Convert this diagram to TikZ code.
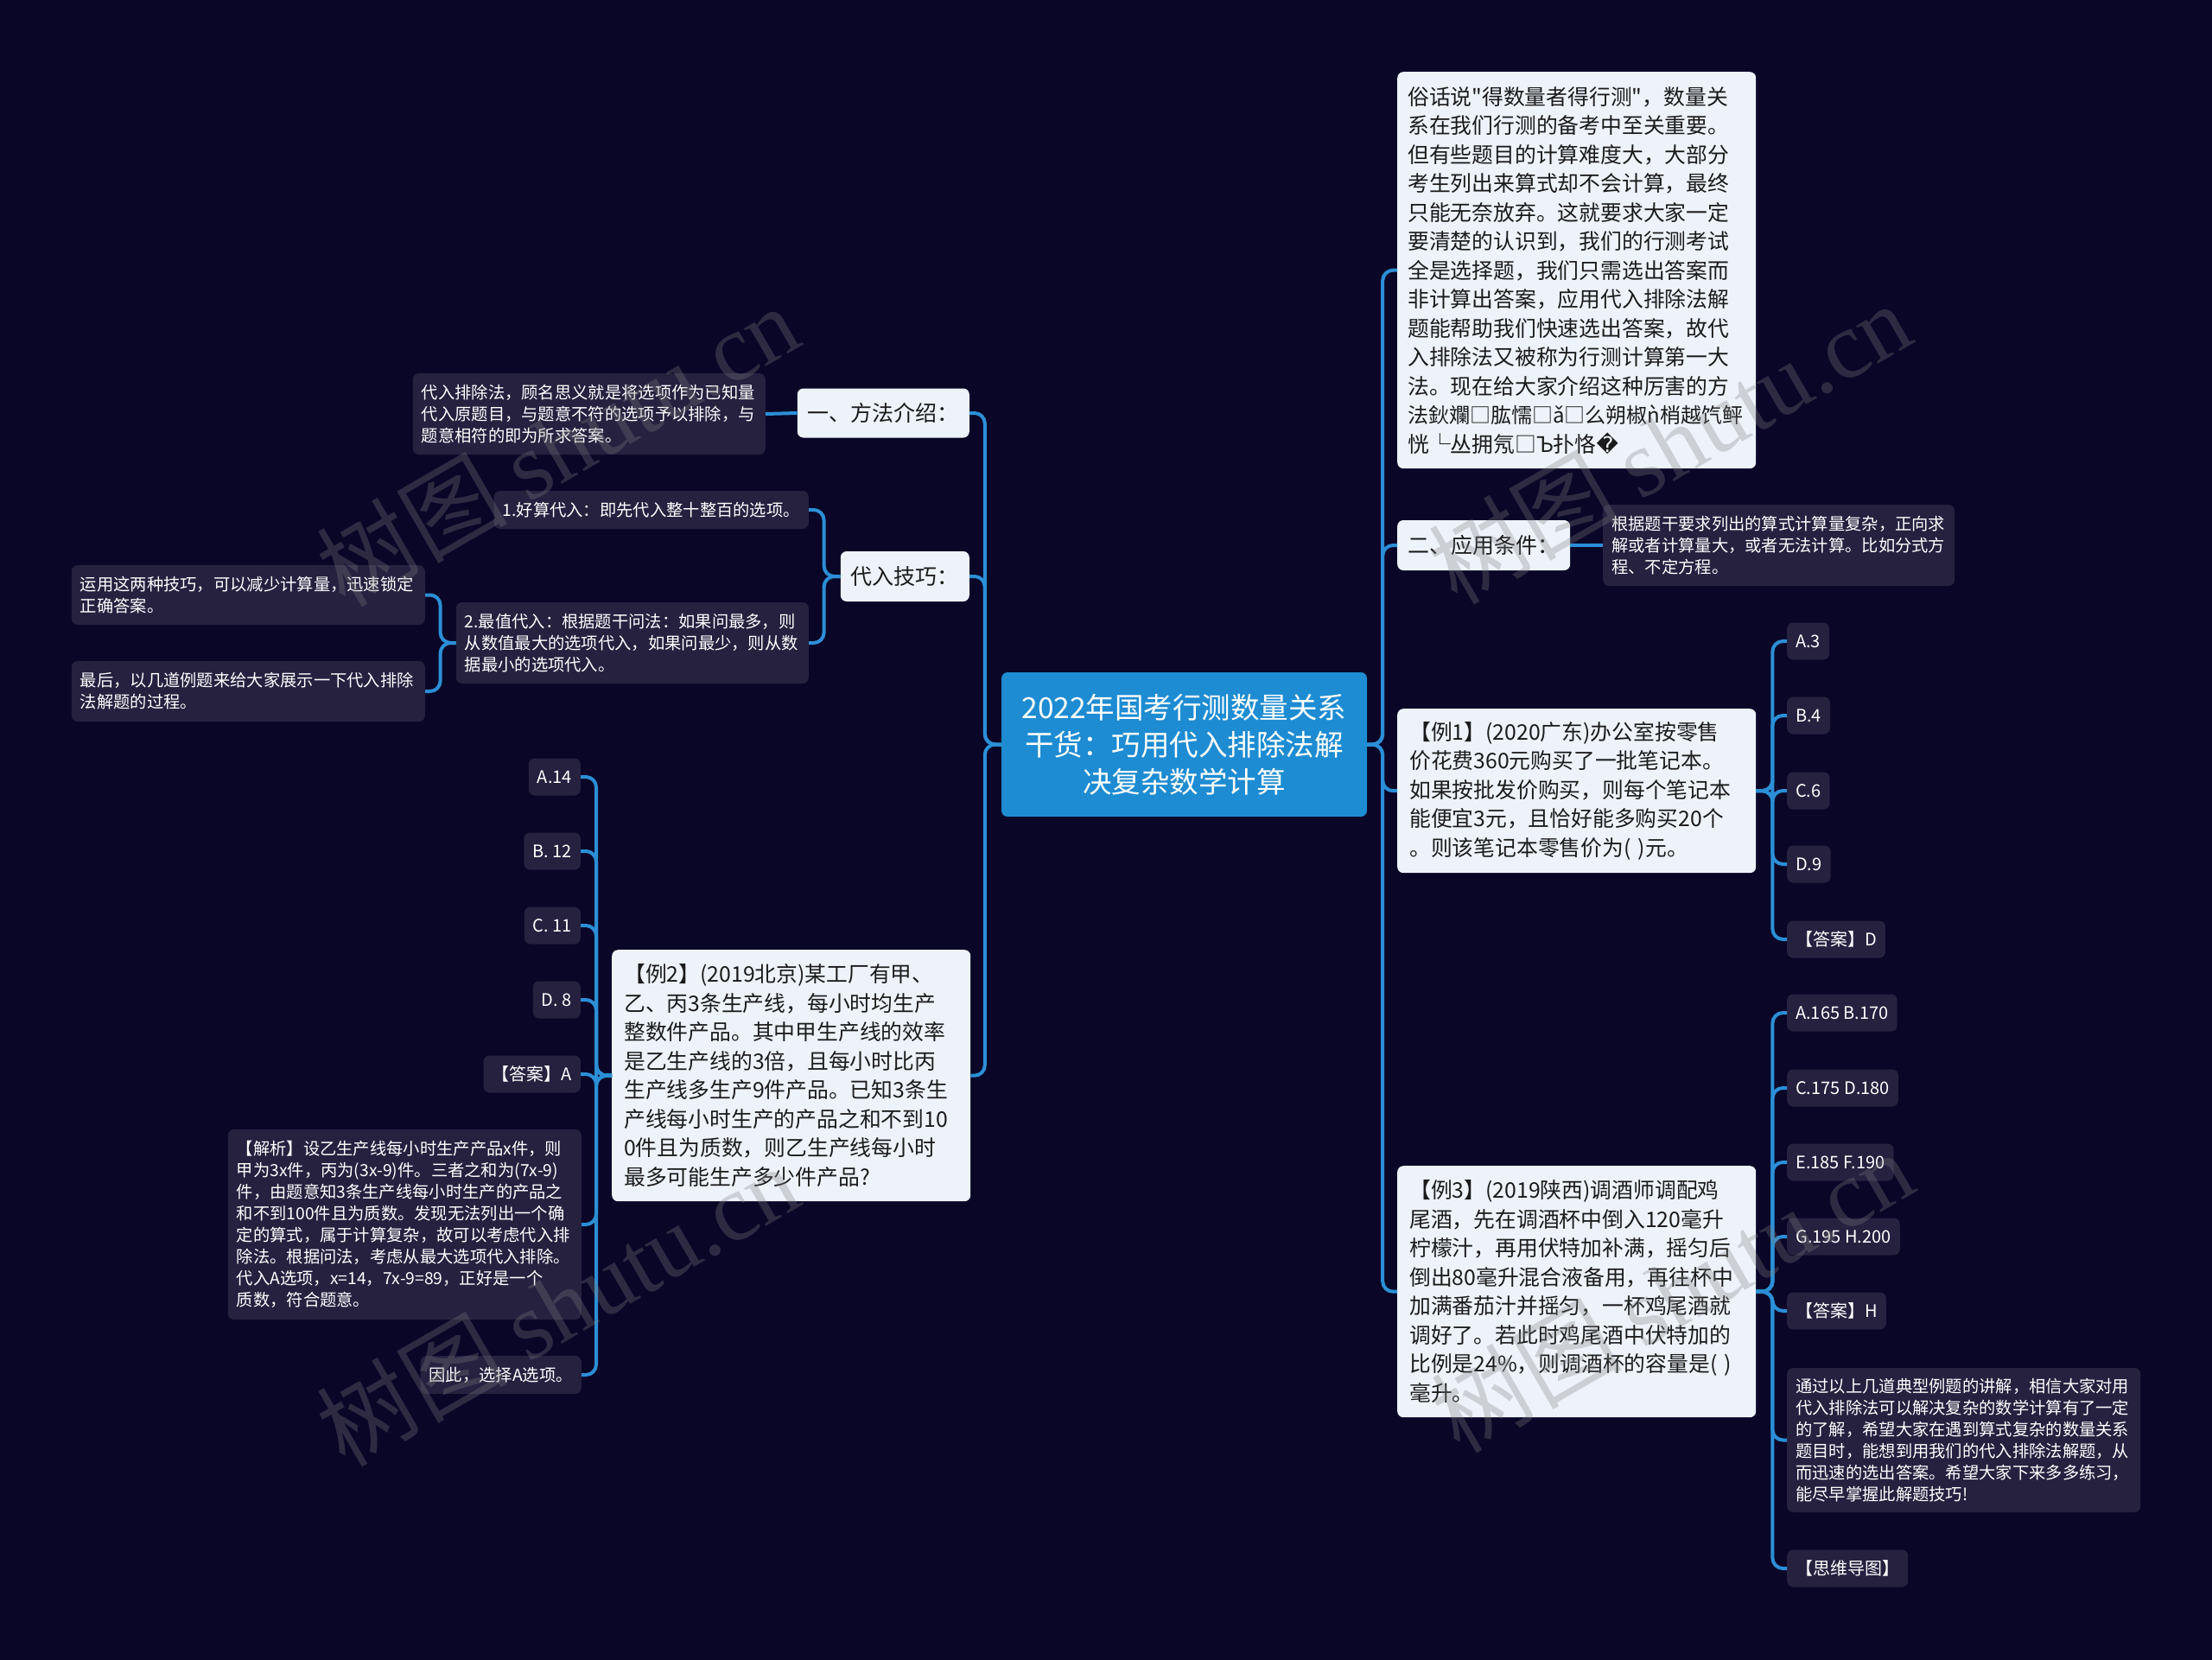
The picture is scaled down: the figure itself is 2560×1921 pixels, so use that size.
\documentclass[tikz,border=0pt]{standalone}
\usepackage{fontspec}
\setmainfont{Noto Sans CJK SC}[Ligatures=TeXOff]
\newfontfamily\symfont{DejaVu Sans}
\newfontfamily\wmfont{Liberation Serif}

\definecolor{bgnavy}{HTML}{0A0628}
\definecolor{rootblue}{HTML}{1E8CD2}
\definecolor{linkblue}{HTML}{2B8FD6}
\definecolor{paper}{HTML}{EEF3FB}
\definecolor{leafbg}{HTML}{25213F}
\definecolor{ink}{HTML}{1B1B1B}

\tikzset{
  root/.style={fill=rootblue, text=white, rounded corners=7pt, align=center,
    minimum width=423, minimum height=167, font=\fontsize{33.5}{43}\selectfont},
  topic/.style={fill=paper, text=ink, rounded corners=7pt, inner xsep=12pt,
    align=left, font=\fontsize{25}{30}\selectfont},
  para/.style={fill=paper, text=ink, rounded corners=7pt, inner xsep=14pt,
    align=left, text width=387pt, font=\fontsize{24.8}{33.5}\selectfont},
  leaf/.style={fill=leafbg, text=white, rounded corners=7pt, inner xsep=10pt,
    align=left, font=\fontsize{19.3}{25}\selectfont},
  opt/.style={fill=leafbg, text=white, rounded corners=7pt, inner xsep=10pt,
    minimum height=43, font=\fontsize{20}{24}\selectfont},
  link/.style={draw=linkblue, line width=4pt, rounded corners=12pt},
  wmark/.style={text=gray, text opacity=0.3, rotate=30,
    font=\fontsize{110}{110}\selectfont}
}

\begin{document}
\begin{tikzpicture}[x=1pt, y=-1pt]

% Canvas (2560 x 1921 px)
\fill[bgnavy] (0,0) rectangle (2560,1921);
\useasboundingbox (0,0) rectangle (2560,1921);

% Root
\node[root] (root) at (1370.5,861.5) {2022年国考行测数量关系\\干货：巧用代入排除法解\\决复杂数学计算};

% Right branch
\node[para, inner xsep=12pt, text width=391pt, minimum height=459, anchor=north west] (intro) at (1617,83) {%
俗话说"得数量者得行测"，数量关\\
系在我们行测的备考中至关重要。\\
但有些题目的计算难度大，大部分\\
考生列出来算式却不会计算，最终\\
只能无奈放弃。这就要求大家一定\\
要清楚的认识到，我们的行测考试\\
全是选择题，我们只需选出答案而\\
非计算出答案，应用代入排除法解\\
题能帮助我们快速选出答案，故代\\
入排除法又被称为行测计算第一大\\
法。现在给大家介绍这种厉害的方\\
{\fontsize{24}{33.5}\selectfont 法鈥斕□肱懦□ǎ□么朔椒ǹ梢越饩鲆}\\
恍└丛拥氖□Ъ扑恪{\symfont �}};

\node[topic, text width=176pt, minimum height=58, anchor=west] (apply) at (1617,631) {二、应用条件：};
\node[leaf, text width=387pt, minimum height=94, anchor=west] (applynote) at (1855,631) {%
根据题干要求列出的算式计算量复杂，正向求\\
解或者计算量大，或者无法计算。比如分式方\\
程、不定方程。};
\draw[link] (apply.east) -- (applynote.west);

\node[para, minimum height=190, anchor=north west] (ex1) at (1617,820) {%
【例1】(2020广东)办公室按零售\\
价花费360元购买了一批笔记本。\\
如果按批发价购买，则每个笔记本\\
能便宜3元，且恰好能多购买20个\\
。则该笔记本零售价为( )元。};

\foreach \lbl/\yy [count=\i] in {A.3/742, B.4/828, C.6/915, D.9/1000, 【答案】D/1087}
  \node[opt, anchor=west] (ex1opt\i) at (2068,\yy) {\lbl};
\foreach \i in {1,...,5}
  \draw[link] (ex1.east) -- ++(19,0) |- (ex1opt\i.west);

\node[para, minimum height=291, anchor=north west] (ex3) at (1617,1349) {%
【例3】(2019陕西)调酒师调配鸡\\
尾酒，先在调酒杯中倒入120毫升\\
柠檬汁，再用伏特加补满，摇匀后\\
倒出80毫升混合液备用，再往杯中\\
加满番茄汁并摇匀，一杯鸡尾酒就\\
调好了。若此时鸡尾酒中伏特加的\\
比例是24\%，则调酒杯的容量是( )\\
毫升。};

\foreach \lbl/\yy [count=\i] in {A.165 B.170/1172, C.175 D.180/1259, E.185 F.190/1345, G.195 H.200/1431, 【答案】H/1517}
  \node[opt, anchor=west] (ex3opt\i) at (2068,\yy) {\lbl};
\node[leaf, text width=389pt, minimum height=167, anchor=west] (summary) at (2068,1666.5) {%
通过以上几道典型例题的讲解，相信大家对用\\
代入排除法可以解决复杂的数学计算有了一定\\
的了解，希望大家在遇到算式复杂的数量关系\\
题目时，能想到用我们的代入排除法解题，从\\
而迅速的选出答案。希望大家下来多多练习，\\
能尽早掌握此解题技巧!};
\node[opt, anchor=west] (mindmap) at (2068,1815) {【思维导图】};
\foreach \n in {ex3opt1, ex3opt2, ex3opt3, ex3opt4, ex3opt5, summary, mindmap}
  \draw[link] (ex3.east) -- ++(19,0) |- (\n.west);

\foreach \n in {intro, apply, ex1, ex3}
  \draw[link] (root.east) -- ++(18,0) |- (\n.west);

% Left branch
\node[topic, text width=175pt, minimum height=57, anchor=east] (method) at (1122,478) {一、方法介绍：};
\node[leaf, text width=388pt, minimum height=94, anchor=east] (methodnote) at (886,479) {%
代入排除法，顾名思义就是将选项作为已知量\\
代入原题目，与题意不符的选项予以排除，与\\
题意相符的即为所求答案。};
\draw[link] (method.west) -- (methodnote.east);

\node[topic, text width=125pt, minimum height=58, anchor=east] (skill) at (1122,667) {代入技巧：};
\node[leaf, minimum height=44, anchor=east] (skillA) at (936,590) {1.好算代入：即先代入整十整百的选项。};
\node[leaf, text width=388pt, minimum height=94, anchor=east] (skillB) at (936,744) {%
2.最值代入：根据题干问法：如果问最多，则\\
从数值最大的选项代入，如果问最少，则从数\\
据最小的选项代入。};
\foreach \n in {skillA, skillB}
  \draw[link] (skill.west) -- ++(-19,0) |- (\n.east);

\node[leaf, text width=389pt, minimum height=69, anchor=east] (tipA) at (492,688.5) {%
运用这两种技巧，可以减少计算量，迅速锁定\\
正确答案。};
\node[leaf, text width=389pt, minimum height=70, anchor=east] (tipB) at (492,800) {%
最后，以几道例题来给大家展示一下代入排除\\
法解题的过程。};
\foreach \n in {tipA, tipB}
  \draw[link] (skillB.west) -- ++(-18,0) |- (\n.east);

\node[para, minimum height=291, anchor=north west] (ex2) at (708,1099) {%
【例2】(2019北京)某工厂有甲、\\
乙、丙3条生产线，每小时均生产\\
整数件产品。其中甲生产线的效率\\
是乙生产线的3倍，且每小时比丙\\
生产线多生产9件产品。已知3条生\\
产线每小时生产的产品之和不到10\\
0件且为质数，则乙生产线每小时\\
最多可能生产多少件产品?};

\foreach \lbl/\yy [count=\i] in {A.14/899, B. 12/985, C. 11/1071, D. 8/1157, 【答案】A/1243}
  \node[opt, anchor=east] (ex2opt\i) at (672,\yy) {\lbl};
\node[leaf, text width=389pt, minimum height=220, anchor=east] (analysis) at (673,1417) {%
【解析】设乙生产线每小时生产产品x件，则\\
甲为3x件，丙为(3x-9)件。三者之和为(7x-9)\\
件，由题意知3条生产线每小时生产的产品之\\
和不到100件且为质数。发现无法列出一个确\\
定的算式，属于计算复杂，故可以考虑代入排\\
除法。根据问法，考虑从最大选项代入排除。\\
代入A选项，x=14，7x-9=89，正好是一个\\
质数，符合题意。};
\node[leaf, minimum height=44, anchor=east] (verdict) at (673,1591) {因此，选择A选项。};
\foreach \n in {ex2opt1, ex2opt2, ex2opt3, ex2opt4, ex2opt5, analysis, verdict}
  \draw[link] (ex2.west) -- ++(-18,0) |- (\n.east);

\foreach \n in {method, skill, ex2}
  \draw[link] (root.west) -- ++(-19,0) |- (\n.east);

% Watermarks
\foreach \wx/\wy [count=\i] in {645/515, 1932/512, 645/1510, 1935/1494}
  \node[wmark] (wm\i) at (\wx,\wy) {树图 {\wmfont shutu.cn}};

\end{tikzpicture}
\end{document}
